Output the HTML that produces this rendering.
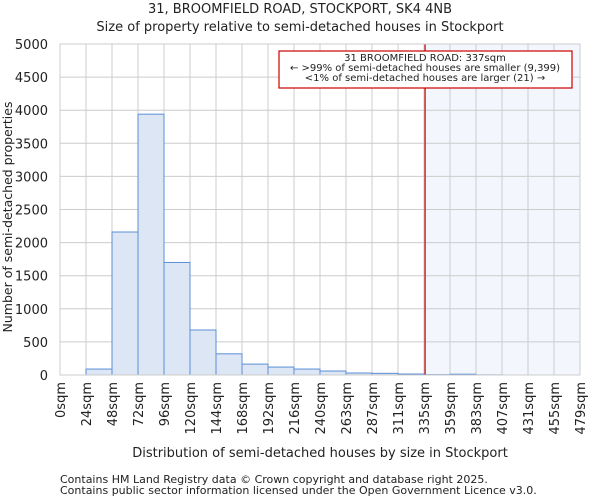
<!DOCTYPE html>
<html><head><meta charset="utf-8"><style>
body{margin:0;background:#fff;font-family:"DejaVu Sans","Liberation Sans",sans-serif;}
svg text{font-family:"DejaVu Sans","Liberation Sans",sans-serif;fill:#222;}
</style></head><body>
<svg id="c" width="600" height="500">
<text x="300" y="13" font-size="13" text-anchor="middle">31, BROOMFIELD ROAD, STOCKPORT, SK4 4NB</text>
<text x="300" y="31" font-size="13" text-anchor="middle">Size of property relative to semi-detached houses in Stockport</text>
<g id="g"></g>
<text x="320" y="457" font-size="13" text-anchor="middle">Distribution of semi-detached houses by size in Stockport</text>
<text transform="translate(12,217) rotate(-90)" font-size="12.5" text-anchor="middle">Number of semi-detached properties</text>
<text x="60" y="483" font-size="11">Contains HM Land Registry data © Crown copyright and database right 2025.</text>
<text x="60" y="494" font-size="11">Contains public sector information licensed under the Open Government Licence v3.0.</text>
</svg>
<script>
const categories=["0sqm","24sqm","48sqm","72sqm","96sqm","120sqm","144sqm","168sqm","192sqm","216sqm","240sqm","263sqm","287sqm","311sqm","335sqm","359sqm","383sqm","407sqm","431sqm","455sqm","479sqm"];
const counts=[0,90,2160,3940,1700,680,320,165,120,90,60,30,25,15,5,12,2,0,0,0];
const yTicks=[0,500,1000,1500,2000,2500,3000,3500,4000,4500,5000];
const propertySize=337;
const binStart=0, binWidth=24;
const X0=60,X1=580,Y0=375,Y1=44,YMAX=5000;
const NS="http://www.w3.org/2000/svg";
const g=document.getElementById('g');
const bw=(X1-X0)/counts.length;
const yPos=v=>Y0-v/YMAX*(Y0-Y1);
function mk(t,a){const e=document.createElementNS(NS,t);for(const k in a)e.setAttribute(k,a[k]);g.appendChild(e);return e;}
const binIdx=Math.floor((propertySize-binStart)/binWidth);
const frac=(propertySize-binStart)/binWidth-binIdx;
const px=X0+(binIdx+frac)*bw;
let r=mk('rect',{x:px,y:Y1,width:X1-px,height:Y0-Y1,fill:'#f3f6fd'});


yTicks.forEach(t=>{const l=mk('line',{x1:X0,x2:X1,y1:yPos(t),y2:yPos(t),stroke:'#ccc','stroke-width':1});


const tx=mk('text',{x:X0-12,y:yPos(t)+5,'font-size':13,'text-anchor':'end'});tx.textContent=t;

});
categories.forEach((c,i)=>{const x=X0+i*bw;const l=mk('line',{x1:x,x2:x,y1:Y1,y2:Y0,stroke:'#ccc','stroke-width':1});


const tx=mk('text',{transform:`translate(${x+5},382) rotate(-90)`,'font-size':13,'text-anchor':'end'});tx.textContent=c;

});
counts.forEach((v,i)=>{if(v<=0)return;const b=mk('rect',{x:X0+i*bw,y:yPos(v),width:bw,height:Y0-yPos(v),fill:'#dde6f4',stroke:'#5b8fd6','stroke-width':1});

});
const pl=mk('line',{x1:px,x2:px,y1:Y1,y2:Y0,stroke:'#cc0000','stroke-width':1.2});


const ab=mk('rect',{x:279,y:51,width:293,height:37,fill:'#fff',stroke:'#cc0000','stroke-width':1.2});


["31 BROOMFIELD ROAD: 337sqm","← >99% of semi-detached houses are smaller (9,399)","<1% of semi-detached houses are larger (21) →"].forEach((s,i)=>{const t=mk('text',{x:425,y:61+i*10,'font-size':10,'text-anchor':'middle'});t.textContent=s;

});
const fr=mk('rect',{x:X0,y:Y1,width:X1-X0,height:Y0-Y1,fill:'none',stroke:'#ccc'});


</script>
</body></html>
